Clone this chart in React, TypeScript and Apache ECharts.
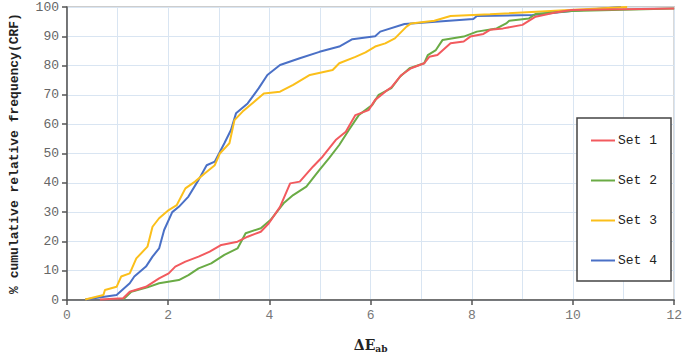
import React, { useEffect, useRef } from "react";
import * as echarts from "echarts";

const seriesNames = ["Set 1", "Set 2", "Set 3", "Set 4"];
const seriesColors = ["#f25a5e", "#6aab45", "#fbbf1a", "#4a70c6"];

const set1: [number, number][] = [
  [0.65, 0.2], [1.11, 0.6], [1.24, 2.8], [1.56, 4.5], [1.82, 7.4], [2.01, 9.1], [2.14, 11.4],
  [2.34, 13.1], [2.6, 14.8], [2.82, 16.5], [3.05, 18.8], [3.37, 19.9], [3.57, 21.6], [3.83, 23.3],
  [3.99, 26.2], [4.21, 31.8], [4.41, 39.8], [4.6, 40.4], [4.86, 45.5], [5.05, 48.9], [5.31, 54.6],
  [5.51, 57.4], [5.7, 63.1], [5.96, 64.8], [6.09, 68.3], [6.29, 71.1], [6.41, 72.6], [6.61, 76.8],
  [6.8, 79.1], [7.06, 80.8], [7.16, 83], [7.32, 83.6], [7.58, 87.6], [7.84, 88.2], [7.97, 89.9],
  [8.23, 90.8], [8.36, 92.2], [8.62, 92.7], [9.0, 93.9], [9.26, 96.7], [9.65, 98.1], [9.97, 99],
  [12, 99.5],
];

const set2: [number, number][] = [
  [1.11, 0.2], [1.27, 2.8], [1.59, 4.3], [1.82, 5.7], [2.21, 6.8], [2.4, 8.5], [2.6, 10.8],
  [2.85, 12.5], [3.11, 15.4], [3.37, 17.6], [3.53, 22.8], [3.83, 24.5], [4.02, 27.3], [4.28, 33],
  [4.47, 35.8], [4.73, 38.7], [4.99, 44.4], [5.18, 48.4], [5.38, 52.9], [5.57, 58], [5.77, 63.2],
  [6.03, 66.5], [6.16, 70], [6.41, 72.3], [6.58, 76.2], [6.77, 79.1], [7.06, 80.8], [7.13, 83.6],
  [7.29, 85.3], [7.42, 88.7], [7.84, 89.9], [8.1, 91.6], [8.49, 92.7], [8.68, 94.4], [8.74, 95.3],
  [9.13, 96.1], [9.26, 97.6], [9.97, 98.6], [12, 99.5],
];

const set3: [number, number][] = [
  [0.36, 0.2], [0.72, 1.7], [0.75, 3.4], [0.98, 4.5], [1.07, 8], [1.24, 9.1], [1.37, 14.2],
  [1.59, 18.2], [1.69, 25], [1.82, 27.9], [2.01, 30.7], [2.17, 32.4], [2.34, 38.1], [2.53, 40.4],
  [2.72, 43.2], [2.92, 46], [3.02, 50], [3.21, 53.5], [3.31, 61.4], [3.47, 64.3], [3.7, 67.7],
  [3.89, 70.5], [4.21, 71.1], [4.47, 73.4], [4.8, 76.8], [5.25, 78.5], [5.38, 80.8], [5.7, 83],
  [5.9, 84.5], [6.09, 86.5], [6.29, 87.6], [6.48, 89.3], [6.71, 93.3], [6.8, 94.4], [7.26, 95.3],
  [7.58, 96.9], [8.36, 97.5], [9.65, 98.7], [11.07, 100],
];

const set4: [number, number][] = [
  [0.36, 0.2], [0.98, 1.7], [1.24, 5.7], [1.33, 8], [1.56, 11.4], [1.69, 14.8], [1.82, 17.6],
  [1.92, 23.9], [2.08, 30], [2.21, 31.8], [2.4, 35.3], [2.6, 41], [2.76, 46], [2.92, 47.2],
  [3.11, 53.5], [3.24, 58], [3.34, 63.7], [3.57, 67.1], [3.79, 72.3], [3.96, 76.8], [4.21, 80.2],
  [4.6, 82.5], [4.99, 84.7], [5.38, 86.5], [5.64, 89], [6.09, 90], [6.19, 91.6], [6.67, 94.2],
  [8.03, 95.9], [8.1, 96.9], [9.2, 97.3], [9.97, 98.6], [10.95, 100],
];

const allSets = [set1, set2, set3, set4];

const MONO = "'Liberation Mono', 'DejaVu Sans Mono', monospace";

export default function App() {
  const ref = useRef<HTMLDivElement>(null);
  useEffect(() => {
    if (!ref.current) return;
    const chart = echarts.init(ref.current, undefined, { renderer: "svg" });
    chart.setOption({
      animation: false,
      backgroundColor: "#ffffff",
      grid: {
        left: 63,
        right: 4,
        top: 7,
        bottom: 59,
        show: true,
        borderColor: "#bdbdbd",
        borderWidth: 1.5,
      },
      legend: {
        orient: "vertical",
        left: 577,
        top: 118,
        padding: [16, 14, 14, 13],
        itemGap: 27,
        itemWidth: 24,
        itemHeight: 14,
        borderColor: "#444",
        borderWidth: 1.5,
        backgroundColor: "#fff",
        itemStyle: { opacity: 0 },
        lineStyle: { width: 2 },
        textStyle: { fontFamily: MONO, fontSize: 13, color: "#222", padding: [0, 0, 0, -2] },
        data: seriesNames,
      },
      xAxis: {
        type: "value",
        min: 0,
        max: 12,
        interval: 2,
        name: "{a|ΔE}{b|ab}",
        nameLocation: "middle",
        nameGap: 36,
        nameTextStyle: {
          rich: {
            a: { fontFamily: "'DejaVu Serif', serif", fontWeight: "bold", fontSize: 14, color: "#222" },
            b: { fontFamily: "'DejaVu Serif', serif", fontWeight: "bold", fontSize: 9, color: "#222", padding: [8, 0, 0, 0] },
          },
        },
        axisLine: { show: true, lineStyle: { color: "#555", width: 1.5 } },
        axisTick: { show: true, length: 5, lineStyle: { color: "#555", width: 1.5 } },
        axisLabel: { fontFamily: MONO, fontSize: 13, color: "#777", margin: 9 },
        splitLine: { show: true, lineStyle: { color: "#d9e5f2", width: 1 } },
        minorTick: { show: false, splitNumber: 2 },
        minorSplitLine: { show: true, lineStyle: { color: "#d9e5f2", width: 1 } },
      },
      yAxis: {
        type: "value",
        min: 0,
        max: 100,
        interval: 10,
        name: "% cumulative relative frequency(CRF)",
        nameLocation: "middle",
        nameGap: 46,
        nameTextStyle: { fontFamily: MONO, fontWeight: "bold", fontSize: 13, color: "#222" },
        axisLine: { show: true, lineStyle: { color: "#555", width: 1.5 } },
        axisTick: { show: true, length: 5, lineStyle: { color: "#555", width: 1.5 } },
        axisLabel: { fontFamily: MONO, fontSize: 13, color: "#666", margin: 8 },
        splitLine: { show: true, lineStyle: { color: "#d9e5f2", width: 1 } },
      },
      series: allSets.map((d, i) => ({
        name: seriesNames[i],
        type: "line",
        data: d,
        symbol: "none",
        showSymbol: false,
        lineStyle: { color: seriesColors[i], width: 2 },
        itemStyle: { color: seriesColors[i] },
        z: 2 + (3 - i),
      })),
    });
    return () => chart.dispose();
  }, []);
  return (
    <div
      ref={ref}
      style={{ position: "fixed", left: 0, top: 0, width: 685, height: 359 }}
    />
  );
}
